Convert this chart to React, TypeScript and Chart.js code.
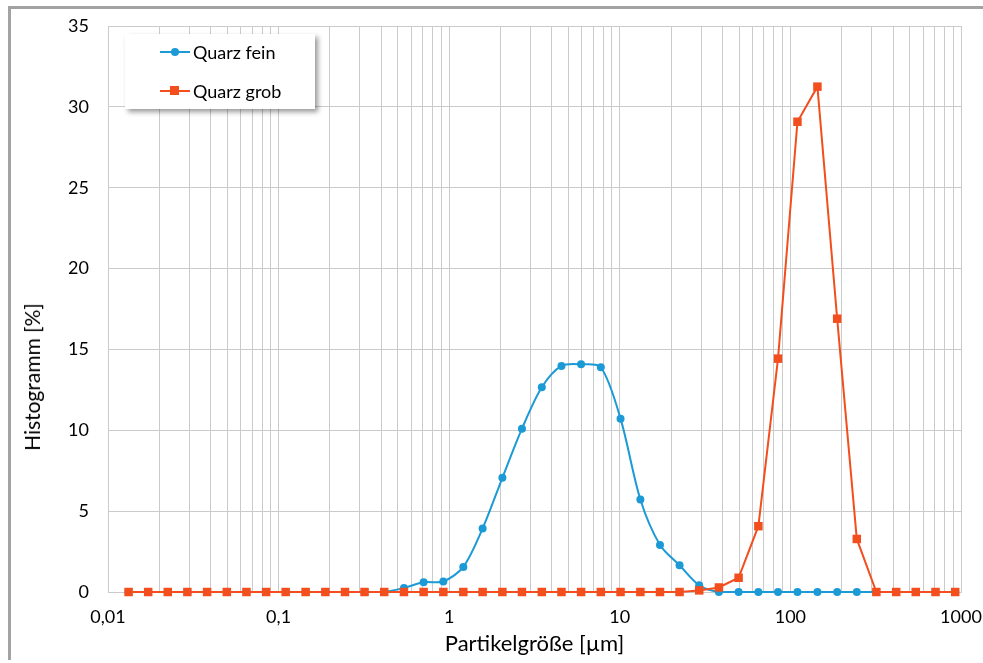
import React, { useEffect, useRef } from "react";
import { Chart, registerables } from "chart.js";

Chart.register(...registerables);

const xValues = [
  0.0132, 0.0172, 0.0224, 0.0292, 0.0381, 0.0497, 0.0648, 0.0845, 0.11, 0.144,
  0.188, 0.245, 0.319, 0.416, 0.543, 0.708, 0.924, 1.21, 1.57, 2.05,
  2.67, 3.49, 4.55, 5.93, 7.74, 10.1, 13.2, 17.2, 22.4, 29.2,
  38.1, 49.7, 64.9, 84.6, 110, 144, 188, 245, 319, 417,
  543, 709, 925,
];

const quarzFein = [
  0, 0, 0, 0, 0, 0, 0, 0, 0, 0,
  0, 0, 0, 0, 0.25, 0.6, 0.65, 1.55, 3.93, 7.06,
  10.1, 12.66, 13.98, 14.08, 13.9, 10.72, 5.72, 2.91, 1.65, 0.41,
  0, 0, 0, 0, 0, 0, 0, 0, 0, 0,
  0, 0, 0,
];

const quarzGrob = [
  0, 0, 0, 0, 0, 0, 0, 0, 0, 0,
  0, 0, 0, 0, 0, 0, 0, 0, 0, 0,
  0, 0, 0, 0, 0, 0, 0, 0, 0, 0.1,
  0.28, 0.88, 4.07, 14.43, 29.08, 31.25, 16.9, 3.28, 0, 0,
  0, 0, 0,
];

const seriesNames = ["Quarz fein", "Quarz grob"];
const decades = [0.01, 0.1, 1, 10, 100, 1000];
const xTickLabels = ["0,01", "0,1", "1", "10", "100", "1000"];
const multipliers = [1, 2, 3, 4, 5, 6, 7, 8, 9];
const yTicks = [0, 5, 10, 15, 20, 25, 30, 35];
const xTitle = "Partikelgröße [µm]";
const yTitle = "Histogramm [%]";

const BLUE = "#1b9ad6";
const RED = "#f24e1e";
const GRID = "#cbcbcb";
const FONT = "Lato, 'Noto Sans', sans-serif";

export default function App() {
  const ref = useRef<HTMLCanvasElement | null>(null);

  useEffect(() => {
    if (!ref.current) return;
    const toPts = (ys: number[]) => xValues.map((x, i) => ({ x, y: ys[i] }));
    const chart = new Chart(ref.current, {
      type: "line",
      data: {
        datasets: [
          {
            label: seriesNames[0],
            data: toPts(quarzFein),
            borderColor: BLUE,
            backgroundColor: BLUE,
            borderWidth: 2,
            pointStyle: "circle",
            pointRadius: 4,
            pointBorderWidth: 0,
            tension: 0.3,
            order: 2,
            clip: false as any,
          },
          {
            label: seriesNames[1],
            data: toPts(quarzGrob),
            borderColor: RED,
            backgroundColor: RED,
            borderWidth: 2,
            pointStyle: "rect",
            pointRadius: 6,
            pointBorderWidth: 0,
            tension: 0,
            order: 1,
            clip: false as any,
          },
        ],
      },
      options: {
        responsive: false,
        animation: false,
        events: [],
        layout: { padding: { top: 26, right: 22, left: 0, bottom: 0 } },
        plugins: { legend: { display: false }, tooltip: { enabled: false } },
        scales: {
          x: {
            type: "logarithmic",
            min: 0.01,
            max: 1000,
            afterBuildTicks: (scale: any) => {
              const t: { value: number }[] = [];
              decades.forEach((d, di) => {
                if (di === decades.length - 1) {
                  t.push({ value: d });
                } else {
                  multipliers.forEach((m) => t.push({ value: +(d * m).toPrecision(6) }));
                }
              });
              scale.ticks = t;
            },
            afterFit: (scale: any) => {
              scale.height = 71;
              scale.paddingLeft = 0;
              scale.paddingRight = 0;
            },
            grid: { color: GRID, lineWidth: 1, drawTicks: false },
            border: { color: GRID, width: 1 },
            ticks: {
              autoSkip: false,
              maxRotation: 0,
              padding: 14,
              color: "#000",
              font: { family: FONT, size: 18 },
              callback: (value: any) => {
                const idx = decades.findIndex((d) => Math.abs(d - Number(value)) / d < 1e-6);
                return idx >= 0 ? xTickLabels[idx] : "";
              },
            },
            title: {
              display: true,
              text: xTitle,
              color: "#000",
              font: { family: FONT, size: 22 },
              padding: { top: 0, bottom: 6 },
            },
          },
          y: {
            type: "linear",
            min: 0,
            max: 35,
            afterBuildTicks: (scale: any) => {
              scale.ticks = yTicks.map((v) => ({ value: v }));
            },
            afterFit: (scale: any) => {
              scale.width = 108;
              scale.paddingTop = 0;
              scale.paddingBottom = 0;
            },
            grid: { color: GRID, lineWidth: 1, drawTicks: false },
            border: { color: GRID, width: 1 },
            ticks: {
              padding: 19,
              color: "#000",
              font: { family: FONT, size: 18 },
            },
            title: { display: false },
          },
        },
      },
    });
    return () => chart.destroy();
  }, []);

  const legendItem = (top: number, color: string, square: boolean, label: string) => (
    <div style={{ position: "absolute", left: 0, top: top, height: 20, width: 190 }}>
      <div
        style={{
          position: "absolute",
          left: 35,
          top: 9,
          width: 30,
          height: 2,
          background: color,
        }}
      />
      <div
        style={{
          position: "absolute",
          left: square ? 45 : 46,
          top: square ? 5 : 6,
          width: square ? 9 : 8,
          height: square ? 9 : 8,
          borderRadius: square ? 0 : "50%",
          background: color,
        }}
      />
      <div
        style={{
          position: "absolute",
          left: 68,
          top: 0,
          lineHeight: "20px",
          fontFamily: FONT,
          fontSize: 18,
          color: "#000",
          whiteSpace: "nowrap",
        }}
      >
        {label}
      </div>
    </div>
  );

  return (
    <div
      style={{
        position: "fixed",
        left: 0,
        top: 0,
        width: 983,
        height: 663,
        overflow: "hidden",
        background: "#fff",
      }}
    >
      <div
        style={{
          position: "absolute",
          left: 8,
          top: 6,
          width: 1100,
          height: 700,
          borderLeft: "3px solid #a3a3a3",
          borderTop: "3px solid #a3a3a3",
          boxSizing: "border-box",
          clipPath: "inset(0 0 46px 0)",
        }}
      />
      <canvas
        ref={ref}
        width={983}
        height={663}
        style={{ position: "absolute", left: 0, top: 0, width: 983, height: 663 }}
      />
      <div
        style={{
          position: "absolute",
          left: 32,
          top: 377,
          transform: "translate(-50%, -50%) rotate(-90deg)",
          fontFamily: FONT,
          fontSize: 21,
          lineHeight: "24px",
          color: "#000",
          whiteSpace: "nowrap",
        }}
      >
        {yTitle}
      </div>
      <div
        style={{
          position: "absolute",
          left: 125,
          top: 34,
          width: 190,
          height: 75,
          background: "#fff",
          boxShadow: "3px 3px 5px rgba(0,0,0,0.4)",
        }}
      >
        {legendItem(8, BLUE, false, seriesNames[0])}
        {legendItem(47, RED, true, seriesNames[1])}
      </div>
    </div>
  );
}
